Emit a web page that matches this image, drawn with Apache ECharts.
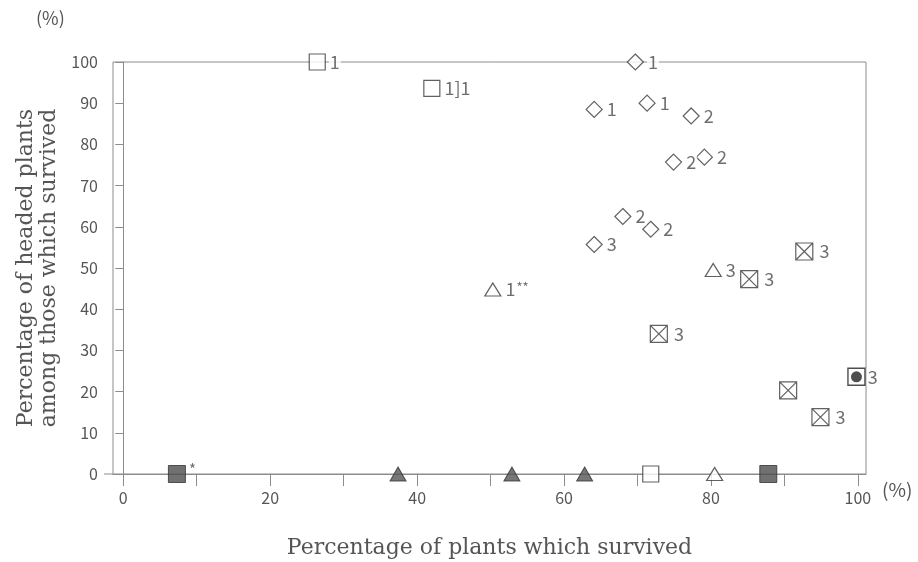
<!DOCTYPE html>
<html>
<head>
<meta charset="utf-8">
<script src="https://cdn.jsdelivr.net/npm/echarts@6/dist/echarts.min.js"></script>
<style>
html,body{margin:0;padding:0;background:#fff;}
#chart{width:918px;height:562px;}
</style>
</head>
<body>
<div id="chart"></div>
<script>
// ---- data ----
var xTickValues = [0, 10, 20, 30, 40, 50, 60, 70, 80, 90, 100];
var xLabelValues = [0, 20, 40, 60, 80, 100];
var yTickInterval = 10;

// [survived %, headed %, label]
var openSquare = [[26.4, 100, '1'], [42.0, 93.6, '1]1'], [71.8, 0, '']];
var diamond = [[69.7, 100, '1'], [64.1, 88.5, '1'], [71.3, 90.0, '1'], [77.3, 86.9, '2'],
               [74.9, 75.7, '2'], [79.1, 76.9, '2'], [68.0, 62.5, '2'], [71.8, 59.4, '2'], [64.1, 55.7, '3']];
var openTriangle = [[80.3, 49.5, '3'], [50.3, 44.8, '1**'], [80.5, 0, '']];
var boxedCross = [[92.7, 54.0, '3'], [85.2, 47.3, '3'], [72.9, 34.0, '3'], [90.5, 20.3, ''], [94.9, 13.8, '3']];
var boxedDot = [[99.8, 23.6, '3']];
var filledTriangle = [[37.4, 0, ''], [52.9, 0, ''], [62.8, 0, '']];
var filledSquare = [[7.3, 0, '*'], [87.8, 0, '']];

var stroke = '#3a3a3a';
var labelColor = '#4a4a4a';
var lineColor = '#8c8c8c';

function lbl(extra) {
  var base = {
    show: true,
    position: 'right',
    distance: 3,
    color: labelColor,
    fontFamily: 'Noto Sans CJK JP',
    fontSize: 18,
    backgroundColor: '#fff',
    padding: [0, 1, 0, 1],
    formatter: function (p) {
      var t = p.data[2] || '';
      return t.replace(/(\*+)/g, '{s|$1}');
    },
    rich: { s: { fontSize: 13, color: labelColor, padding: [0, 0, 4, 1], fontFamily: 'Noto Sans CJK JP' } }
  };
  for (var k in extra) base[k] = extra[k];
  return base;
}

var boxCrossPath = 'path://M0,0L20,0L20,20L0,20Z M0,0L20,20 M20,0L0,20';
var squarePath = 'path://M0,0L20,0L20,20L0,20Z';

var chart = echarts.init(document.getElementById('chart'), null, { renderer: 'canvas' });
chart.setOption({
  backgroundColor: '#fff',
  animation: false,
  grid: { left: 113, right: 52, top: 62, bottom: 88, show: true, borderColor: lineColor, borderWidth: 1,
          outerBoundsMode: 'none', containLabel: false },
  xAxis: {
    type: 'value', min: -1.4, max: 101.1,
    name: 'Percentage of plants which survived',
    nameLocation: 'middle', nameGap: 63,
    nameTextStyle: { fontFamily: 'DejaVu Serif', fontSize: 22, color: '#555' },
    axisLine: { show: true, lineStyle: { color: lineColor } },
    axisTick: { show: true, length: 12, customValues: xTickValues, lineStyle: { color: lineColor } },
    axisLabel: { customValues: xLabelValues, margin: 16, fontSize: 16, color: '#555', fontFamily: 'Noto Sans CJK JP' },
    splitLine: { show: false }
  },
  yAxis: {
    type: 'value', min: 0, max: 100, interval: yTickInterval,
    name: 'Percentage of headed plants\namong those which survived',
    nameLocation: 'middle', nameGap: 50, nameRotate: 90,
    nameTextStyle: { fontFamily: 'DejaVu Serif', fontSize: 22, lineHeight: 23, color: '#555' },
    axisLine: { show: true, lineStyle: { color: lineColor } },
    axisTick: { show: true, length: 8, lineStyle: { color: lineColor } },
    axisLabel: { margin: 15, fontSize: 16, color: '#555', fontFamily: 'Noto Sans CJK JP' },
    splitLine: { show: false }
  },
  graphic: [
    { type: 'text', left: 36, top: 9, style: { text: '(%)', fontSize: 18, fill: '#555', fontFamily: 'Noto Sans CJK JP' } },
    { type: 'text', left: 882, top: 480, style: { text: '(%)', fontSize: 19, fill: '#555', fontFamily: 'Noto Sans CJK JP' } },
    { type: 'line', shape: { x1: 104, y1: 474, x2: 113, y2: 474 }, style: { stroke: lineColor, lineWidth: 1 } }
  ],
  series: [
    {
      type: 'scatter', name: 'filledTriangle', data: filledTriangle, symbol: 'triangle', symbolSize: [16, 14],
      itemStyle: { color: '#555', borderColor: '#333', borderWidth: 1 }, z: 3,
      markLine: { silent: true, symbol: 'none', label: { show: false },
        lineStyle: { color: lineColor, type: 'solid', width: 1 }, data: [{ xAxis: 0 }] }
    },
    {
      type: 'scatter', name: 'filledSquare', data: filledSquare, symbol: 'rect', symbolSize: [17, 17],
      itemStyle: { color: '#4d4d4d', borderColor: '#333', borderWidth: 1 },
      label: lbl({ fontSize: 15, position: 'right', distance: 2, offset: [0, -5], backgroundColor: 'transparent',
        formatter: function (p) { return p.data[2] || ''; } }), z: 3
    },
    {
      type: 'scatter', name: 'openSquare', data: openSquare, symbol: squarePath, symbolSize: [16, 16],
      itemStyle: { color: '#fff', borderColor: stroke, borderWidth: 1.2 }, label: lbl({}), z: 3
    },
    {
      type: 'scatter', name: 'diamond', data: diamond, symbol: 'diamond', symbolSize: [16, 16],
      itemStyle: { color: '#fff', borderColor: stroke, borderWidth: 1.2 }, label: lbl({}), z: 3
    },
    {
      type: 'scatter', name: 'openTriangle', data: openTriangle, symbol: 'triangle', symbolSize: [16, 13],
      itemStyle: { color: '#fff', borderColor: stroke, borderWidth: 1.2 }, label: lbl({}), z: 3
    },
    {
      type: 'scatter', name: 'boxedCross', data: boxedCross, symbol: boxCrossPath, symbolSize: [17, 17],
      itemStyle: { color: '#fff', borderColor: stroke, borderWidth: 1.2 }, label: lbl({ distance: 5 }), z: 3
    },
    {
      type: 'scatter', name: 'boxedDotBox', data: boxedDot, symbol: squarePath, symbolSize: [17, 17],
      itemStyle: { color: '#fff', borderColor: '#222', borderWidth: 1.4 }, label: lbl({ distance: 1 }), z: 3
    },
    {
      type: 'scatter', name: 'boxedDotDot', data: boxedDot, symbol: 'circle', symbolSize: 11,
      itemStyle: { color: '#222' }, label: { show: false }, z: 4
    }
  ]
});
</script>
</body>
</html>
